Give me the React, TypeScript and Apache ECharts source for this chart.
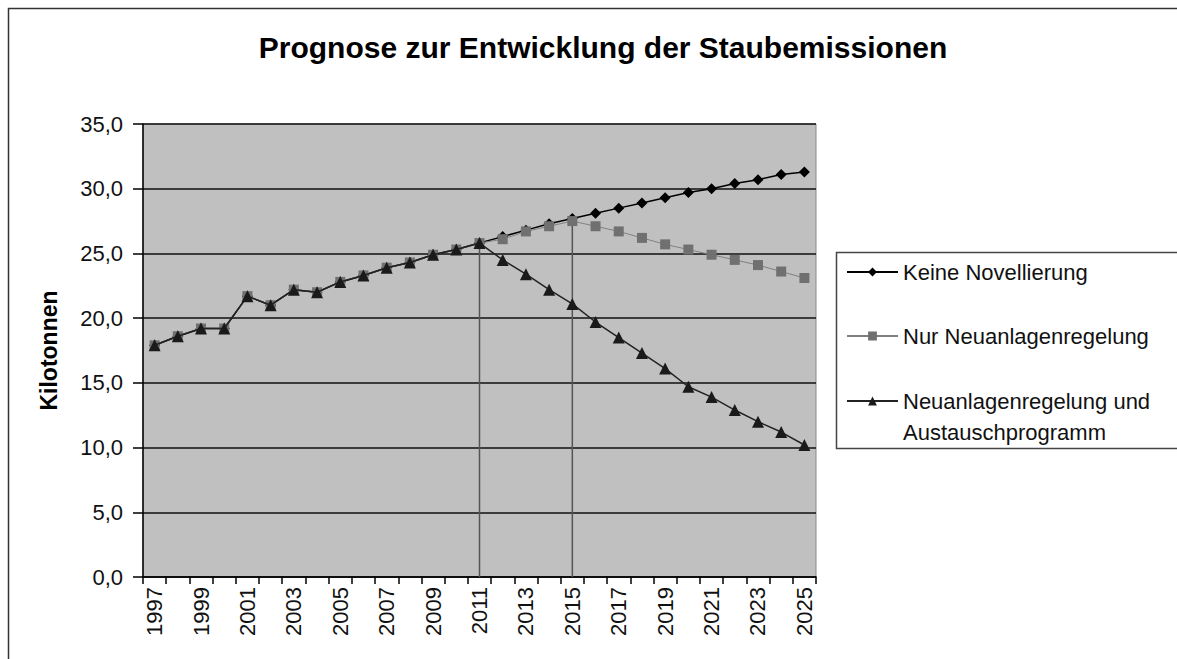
import React, { useEffect, useRef } from "react";
import * as echarts from "echarts";

const years: string[] = [
  "1997","1998","1999","2000","2001","2002","2003","2004","2005","2006",
  "2007","2008","2009","2010","2011","2012","2013","2014","2015","2016",
  "2017","2018","2019","2020","2021","2022","2023","2024","2025",
];

const keineNovellierung: number[] = [
  17.9, 18.6, 19.2, 19.2, 21.7, 21.0, 22.2, 22.0, 22.8, 23.3,
  23.9, 24.3, 24.9, 25.3, 25.8, 26.3, 26.8, 27.3, 27.7, 28.1,
  28.5, 28.9, 29.3, 29.7, 30.0, 30.4, 30.7, 31.1, 31.3,
];

const nurNeuanlagen: number[] = [
  17.9, 18.6, 19.2, 19.2, 21.7, 21.0, 22.2, 22.0, 22.8, 23.3,
  23.9, 24.3, 24.9, 25.3, 25.8, 26.1, 26.7, 27.1, 27.5, 27.1,
  26.7, 26.2, 25.7, 25.3, 24.9, 24.5, 24.1, 23.6, 23.1,
];

const neuanlagenAustausch: number[] = [
  17.9, 18.6, 19.2, 19.2, 21.7, 21.0, 22.2, 22.0, 22.8, 23.3,
  23.9, 24.3, 24.9, 25.3, 25.8, 24.5, 23.4, 22.2, 21.1, 19.7,
  18.5, 17.3, 16.1, 14.7, 13.9, 12.9, 12.0, 11.2, 10.2,
];

const dropYears: string[] = ["2011", "2015"];
const dropTops: number[] = [25.8, 27.6];

const seriesNames: string[] = [
  "Keine Novellierung",
  "Nur Neuanlagenregelung",
  "Neuanlagenregelung und\nAustauschprogramm",
];

const FONT = "Liberation Sans, Arial, sans-serif";

export default function App() {
  const ref = useRef<HTMLDivElement>(null);
  useEffect(() => {
    if (!ref.current) return;
    const chart = echarts.init(ref.current, undefined, { renderer: "svg" });
    const legendBase = {
      orient: "vertical" as const,
      left: 846,
      padding: 0,
      itemWidth: 51,
      itemHeight: 11,
      selectedMode: false,
      textStyle: { fontFamily: FONT, fontSize: 22, color: "#111", lineHeight: 31 },
    };
    const dropSeries = dropYears.map((y, i) => ({
      type: "line" as const,
      name: "drop" + y,
      data: [
        [years.indexOf(y), 0],
        [years.indexOf(y), dropTops[i]],
      ],
      symbol: "none",
      silent: true,
      z: 1,
      lineStyle: { color: "#555", width: 1.5 },
    }));
    chart.setOption({
      animation: false,
      backgroundColor: "#fff",
      textStyle: { fontFamily: FONT },
      title: {
        text: "Prognose zur Entwicklung der Staubemissionen",
        left: 598,
        textAlign: "center",
        top: 27,
        textStyle: { fontFamily: FONT, fontSize: 30, fontWeight: "bold", color: "#000" },
      },
      graphic: [
        {
          type: "rect",
          shape: { x: 8.5, y: 8.5, width: 1400, height: 900 },
          style: { fill: "none", stroke: "#333", lineWidth: 1.5 },
          silent: true,
        },
        {
          type: "rect",
          shape: { x: 836.5, y: 252.5, width: 500, height: 196 },
          style: { fill: "none", stroke: "#444", lineWidth: 1.5 },
          silent: true,
        },
      ],
      legend: [
        { ...legendBase, top: 272 - 15.5, data: [seriesNames[0]] },
        { ...legendBase, top: 336 - 15.5, data: [seriesNames[1]] },
        {
          ...legendBase,
          top: 401 - 46.5,
          data: [seriesNames[2]],
          formatter: (n: string) => "\n" + n,
        },
      ],
      grid: {
        left: 143,
        top: 124,
        right: 361,
        bottom: 82,
        show: true,
        backgroundColor: "#c0c0c0",
        borderColor: "#8a8a8a",
        borderWidth: 1,
      },
      xAxis: {
        type: "category",
        data: years,
        boundaryGap: true,
        axisLine: { show: true, lineStyle: { color: "#000", width: 1.5 } },
        axisTick: { show: true, interval: 0, length: 7, lineStyle: { color: "#000", width: 1.5 } },
        axisLabel: {
          interval: 1,
          rotate: 90,
          fontFamily: FONT,
          fontSize: 22,
          color: "#111",
          margin: 10,
        },
        splitLine: { show: false },
      },
      yAxis: {
        type: "value",
        min: 0,
        max: 35,
        interval: 5,
        name: "Kilotonnen",
        nameLocation: "middle",
        nameRotate: 90,
        nameGap: 83,
        nameTextStyle: { fontFamily: FONT, fontSize: 23, fontWeight: "bold", color: "#000" },
        axisLine: { show: true, lineStyle: { color: "#000", width: 1.5 } },
        axisTick: { show: true, length: 10, lineStyle: { color: "#000", width: 1.5 } },
        axisLabel: {
          fontFamily: FONT,
          fontSize: 22,
          color: "#111",
          margin: 20,
          formatter: (v: number) => v.toFixed(1).replace(".", ","),
        },
        splitLine: { show: true, lineStyle: { color: "#111", width: 1.5 } },
      },
      series: [
        ...dropSeries,
        {
          type: "line",
          name: seriesNames[0],
          data: keineNovellierung,
          symbol: "diamond",
          symbolSize: 11,
          z: 2,
          itemStyle: { color: "#000" },
          lineStyle: { color: "#000", width: 1.5 },
        },
        {
          type: "line",
          name: seriesNames[1],
          data: nurNeuanlagen,
          symbol: "rect",
          symbolSize: 10,
          z: 3,
          itemStyle: { color: "#707070" },
          lineStyle: { color: "#808080", width: 1 },
        },
        {
          type: "line",
          name: seriesNames[2],
          data: neuanlagenAustausch,
          symbol: "triangle",
          symbolSize: 12,
          z: 4,
          itemStyle: { color: "#1a1a1a" },
          lineStyle: { color: "#222", width: 1.5 },
        },
      ],
    });
    return () => chart.dispose();
  }, []);
  return (
    <div
      ref={ref}
      style={{ position: "absolute", left: 0, top: 0, width: 1177, height: 659 }}
    />
  );
}
